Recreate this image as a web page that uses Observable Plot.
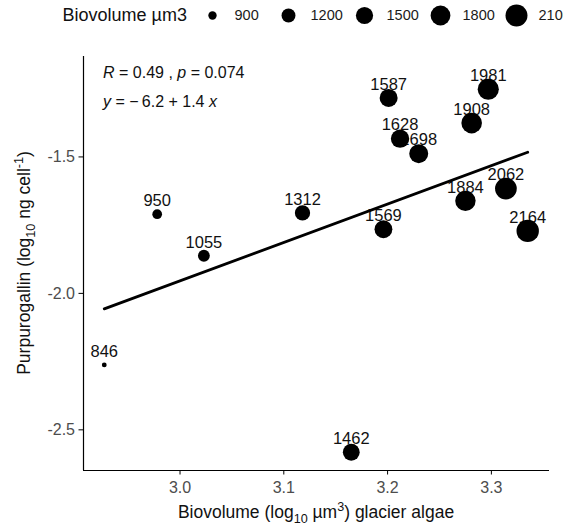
<!DOCTYPE html>
<html><head><meta charset="utf-8">
<script src="https://cdn.jsdelivr.net/npm/d3@7"></script>
<script src="https://cdn.jsdelivr.net/npm/@observablehq/plot@0.6"></script>
<style>
body{margin:0;background:#fff;overflow:hidden;font-family:"Liberation Sans",Arial,sans-serif;}
#chart{width:563px;height:528px;overflow:hidden;background:#fff;}
#chart svg{display:block;}
</style></head><body><div id="chart"></div>
<script>
// ---- data ----
const biovolume = [846, 950, 1055, 1312, 1462, 1569, 1587, 1628, 1698, 1884, 1908, 1981, 2062, 2164];
const logBiovolume = [2.927, 2.978, 3.023, 3.118, 3.165, 3.196, 3.201, 3.212, 3.230, 3.275, 3.281, 3.297, 3.314, 3.335];
const purpurogallin = [-2.262, -1.710, -1.862, -1.705, -2.582, -1.765, -1.284, -1.433, -1.488, -1.661, -1.376, -1.252, -1.616, -1.771];
const sizeBreaks = [900, 1200, 1500, 1800, 2100];
const xTicks = [3.0, 3.1, 3.2, 3.3];
const yTicks = [-2.5, -2.0, -1.5];
const xDomain = [2.907, 3.356];
const yDomain = [-2.649, -1.132];
const legendTitle = "Biovolume µm3";
const statR = "0.49", statP = "0.074";
const eqIntercept = "\u2212\u20096.2", eqSlope = "1.4";

const W = 563, LEG_H = 34, H = 528 - LEG_H;
const FONT = "'Liberation Sans', Arial, sans-serif";
const bioMin = d3.min(biovolume), bioMax = d3.max(biovolume);
const rOpts = {type: "sqrt", domain: [0, bioMax - bioMin], range: [2.4, 11.2]};
const data = biovolume.map((b, i) => ({bio: b, x: logBiovolume[i], y: purpurogallin[i]}));
const fmt = d => d.toFixed(1);

// ---- legend (above the chart) ----
const legend = Plot.plot({
  width: W, height: LEG_H,
  marginTop: 0, marginBottom: 4, marginLeft: 0, marginRight: 0,
  style: {fontFamily: FONT, background: "white", overflow: "hidden"},
  x: {type: "point", domain: sizeBreaks, range: [212, 516], padding: 0, axis: null},
  r: rOpts,
  marks: [
    Plot.dot(sizeBreaks, {x: d => d, r: d => d - bioMin, fill: "black", stroke: "none"}),
    Plot.text(sizeBreaks, {x: d => d, text: d => String(d), dx: 22, textAnchor: "start", fontSize: 14.5, fill: "#1a1a1a"}),
    Plot.text([legendTitle], {text: d => d, frameAnchor: "left", dx: 62, textAnchor: "start", fontSize: 18, fill: "#111"})
  ]
});

// ---- main chart ----
const chart = Plot.plot({
  width: W, height: H,
  marginLeft: 83, marginRight: 14, marginTop: 22, marginBottom: 58,
  style: {fontFamily: FONT, background: "white", overflow: "visible"},
  x: {domain: xDomain, label: null},
  y: {domain: yDomain, label: null},
  r: rOpts,
  marks: [
    Plot.axisX({ticks: xTicks, tickFormat: fmt, tickSize: 4.5, tickPadding: 7, fontSize: 16, stroke: "black", fill: "#4d4d4d", label: null}),
    Plot.axisY({ticks: yTicks, tickFormat: fmt, tickSize: 4.5, tickPadding: 4, fontSize: 16, stroke: "black", fill: "#4d4d4d", label: null}),
    Plot.ruleY([yDomain[0]], {stroke: "black", strokeWidth: 1.2}),
    Plot.ruleX([xDomain[0]], {stroke: "black", strokeWidth: 1.2}),
    Plot.text(data, {x: "x", y: "y", text: d => String(d.bio), dy: -13.5, lineAnchor: "middle", fontSize: 16.5, fill: "#111"}),
    Plot.linearRegressionY(data, {x: "x", y: "y", ci: 0, stroke: "black", strokeWidth: 2.8}),
    Plot.dot(data, {x: "x", y: "y", r: d => d.bio - bioMin, fill: "black", stroke: "none"})
  ]
});

const root = document.getElementById("chart");
root.appendChild(legend);
root.appendChild(chart);

// ---- rich-text annotations and axis titles ----
const svg = d3.select(chart);
function rich(g, parts, size) {
  parts.forEach(p => {
    const t = g.append("tspan").text(p.t);
    if (p.i) t.attr("font-style", "italic");
    if (p.sub) t.attr("font-size", size * 0.72).attr("dy", size * 0.28);
    if (p.sup) t.attr("font-size", size * 0.72).attr("dy", -size * 0.4);
    if (p.back) t.attr("dy", p.back);
  });
}
const ann = svg.append("g").attr("font-family", FONT).attr("fill", "#111");
const t1 = ann.append("text").attr("x", 103).attr("y", 78 - LEG_H).attr("font-size", 16).attr("text-anchor", "start");
rich(t1, [{t: "R", i: true}, {t: " = " + statR + " , "}, {t: "p", i: true}, {t: " = " + statP}], 16);
const t2 = ann.append("text").attr("x", 103).attr("y", 107 - LEG_H).attr("font-size", 16).attr("text-anchor", "start");
rich(t2, [{t: "y", i: true}, {t: " = " + eqIntercept + " + " + eqSlope + " "}, {t: "x", i: true}], 16);

const TS = 17.5;
const xt = ann.append("text").attr("x", 316).attr("y", 518 - LEG_H).attr("font-size", TS).attr("text-anchor", "middle");
rich(xt, [{t: "Biovolume (log"}, {t: "10", sub: true}, {t: " µm", back: -TS * 0.28}, {t: "3", sup: true}, {t: ") glacier algae", back: TS * 0.4}], TS);
const yt = ann.append("text").attr("transform", `translate(30,${263 - LEG_H}) rotate(-90)`).attr("font-size", TS).attr("text-anchor", "middle");
rich(yt, [{t: "Purpurogallin (log"}, {t: "10", sub: true}, {t: " ng cell", back: -TS * 0.28}, {t: "-1", sup: true}, {t: ")", back: TS * 0.4}], TS);
</script>
</body></html>
